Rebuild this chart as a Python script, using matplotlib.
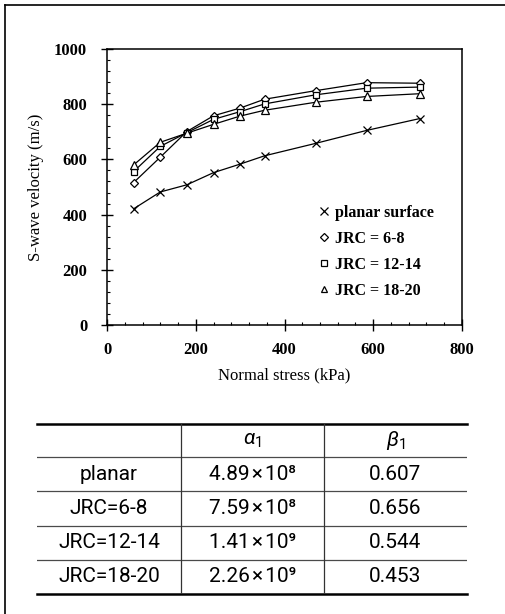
import matplotlib
matplotlib.use("Agg")
import matplotlib.pyplot as plt
from matplotlib.lines import Line2D
from matplotlib.ticker import MultipleLocator

# --- data ---
stress = [60, 120, 180, 240, 300, 355, 470, 585, 705]
planar = [421, 482, 508, 552, 583, 613, 658, 705, 748]
jrc_6_8 = [516, 608, 701, 758, 786, 818, 849, 878, 876]
jrc_12_14 = [556, 647, 697, 745, 773, 801, 834, 858, 862]
jrc_18_20 = [580, 662, 695, 727, 757, 778, 807, 828, 838]

legend_labels = ["planar surface", "JRC = 6-8", "JRC = 12-14", "JRC = 18-20"]

row_labels = ["planar", "JRC=6-8", "JRC=12-14", "JRC=18-20"]
alpha_mant = ["4.89", "7.59", "1.41", "2.26"]
alpha_exp = ["⁸", "⁸", "⁹", "⁹"]
beta_vals = ["0.607", "0.656", "0.544", "0.453"]
col_headers = [r"$\alpha_1$", r"$\beta_1$"]

plt.rcParams["mathtext.fontset"] = "custom"
plt.rcParams["mathtext.rm"] = "Roboto"
plt.rcParams["mathtext.it"] = "Roboto:italic"
plt.rcParams["mathtext.bf"] = "Roboto:bold"

W, H = 505, 614
fig = plt.figure(figsize=(W / 100, H / 100), dpi=100)

serif = "Liberation Serif"

# chart axes
ax = fig.add_axes([107 / W, 1 - 325 / H, 355 / W, 276 / H])
series = [planar, jrc_6_8, jrc_12_14, jrc_18_20]
markers = ["x", "D", "s", "^"]
msizes = [6, 4.5, 5, 5.5]
for vals, m, ms in zip(series, markers, msizes):
    ax.plot(stress, vals, color="black", linewidth=0.9, marker=m, markersize=ms,
            markerfacecolor="white", markeredgecolor="black", markeredgewidth=0.9)

ax.set_xlim(0, 800)
ax.set_ylim(0, 1000)
ax.xaxis.set_major_locator(MultipleLocator(200))
ax.yaxis.set_major_locator(MultipleLocator(200))
ax.xaxis.set_minor_locator(MultipleLocator(40))
ax.yaxis.set_minor_locator(MultipleLocator(40))
ax.tick_params(which="major", direction="inout", length=8.5, width=1.0,
               top=False, right=False)
ax.tick_params(axis="y", which="major", pad=10)
ax.tick_params(axis="x", which="major", pad=8)
ax.tick_params(which="minor", direction="in", length=2.5, width=0.8,
               top=False, right=False)
for lab in ax.get_xticklabels() + ax.get_yticklabels():
    lab.set_fontfamily(serif)
    lab.set_fontweight("bold")
    lab.set_fontsize(12)
for sp in ax.spines.values():
    sp.set_linewidth(1.1)

ax.set_xlabel("Normal stress (kPa)", fontfamily=serif, fontsize=12, labelpad=7)
ax.set_ylabel("S-wave velocity (m/s)", fontfamily=serif, fontsize=12, labelpad=7)

handles = [Line2D([], [], linestyle="none", marker=m, markersize=ms * 0.85,
                  markerfacecolor="white", markeredgecolor="black", markeredgewidth=0.9,
                  color="black")
           for m, ms in zip(markers, msizes)]
ax.legend(handles, legend_labels, loc="upper left", bbox_to_anchor=(0.597, 0.435),
          frameon=False, handlelength=0.6, handletextpad=0.4, labelspacing=0.62,
          borderpad=0, borderaxespad=0,
          prop={"family": serif, "weight": "bold", "size": 11.5})

# table drawn by hand
tw, th = 430, 170
tax = fig.add_axes([37 / W, 1 - 594 / H, tw / W, th / H])
tax.set_xlim(0, tw)
tax.set_ylim(th, 0)
tax.axis("off")

col_edges = [0, 144, 287, tw]
row_edges = [0, 33, 67, 102, 136, th]

tax.plot([0, tw], [row_edges[0]] * 2, color="black", lw=1.8, clip_on=False)
tax.plot([0, tw], [row_edges[-1]] * 2, color="black", lw=1.8, clip_on=False)
for y in row_edges[1:-1]:
    tax.plot([0, tw], [y, y], color="#4a4a4a", lw=0.9)
for x in col_edges[1:-1]:
    tax.plot([x, x], [row_edges[0], row_edges[-1]], color="#333333", lw=0.9)

tfont = dict(family=["Roboto", "DejaVu Sans"], fontsize=15, ha="center", va="center")
xc = [(col_edges[i] + col_edges[i + 1]) / 2 for i in range(3)]
yc = [(row_edges[i] + row_edges[i + 1]) / 2 for i in range(5)]

for j, hdr in enumerate(col_headers):
    tax.text(xc[j + 1], yc[0], hdr, **tfont)
for i, name in enumerate(row_labels):
    tax.text(xc[0], yc[i + 1], name, **tfont)
    tax.text(xc[1], yc[i + 1], f"{alpha_mant[i]}\u200a×\u200a10{alpha_exp[i]}", **tfont)
    tax.text(xc[2], yc[i + 1], beta_vals[i], **tfont)

# outer frame lines (top and left)
fig.add_artist(Line2D([5 / W, 1], [1 - 5 / H, 1 - 5 / H], transform=fig.transFigure,
                      color="black", lw=1.2))
fig.add_artist(Line2D([5 / W, 5 / W], [0, 1 - 5 / H], transform=fig.transFigure,
                      color="black", lw=1.2))

fig.savefig("out.png", dpi=100)
